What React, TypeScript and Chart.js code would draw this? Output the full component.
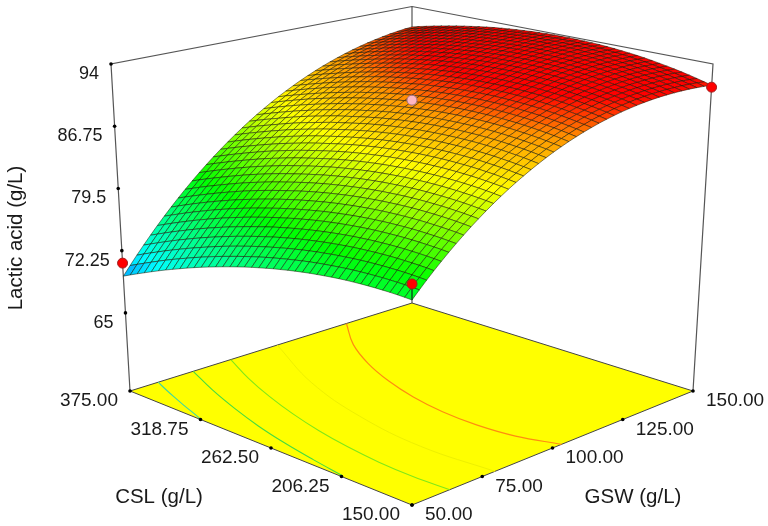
import React, { useEffect, useRef } from "react";
import { Chart, registerables } from "chart.js";

Chart.register(...registerables);

// CSL axis: 375 down to 150 in 40 cells, GSW axis: 50 up to 150 in 40 cells
const cslGrid = [375, 369.375, 363.75, 358.125, 352.5, 346.875, 341.25, 335.625, 330, 324.375, 318.75, 313.125, 307.5, 301.875, 296.25, 290.625, 285, 279.375, 273.75, 268.125, 262.5, 256.875, 251.25, 245.625, 240, 234.375, 228.75, 223.125, 217.5, 211.875, 206.25, 200.625, 195, 189.375, 183.75, 178.125, 172.5, 166.875, 161.25, 155.625, 150];
const gswGrid = [50, 52.5, 55, 57.5, 60, 62.5, 65, 67.5, 70, 72.5, 75, 77.5, 80, 82.5, 85, 87.5, 90, 92.5, 95, 97.5, 100, 102.5, 105, 107.5, 110, 112.5, 115, 117.5, 120, 122.5, 125, 127.5, 130, 132.5, 135, 137.5, 140, 142.5, 145, 147.5, 150];
// lactic acid (g/L), one row per CSL value, one column per GSW value
const lactic = [
  [69.28,70.29,71.28,72.24,73.18,74.10,74.99,75.86,76.71,77.53,78.33,79.11,79.86,80.59,81.29,81.97,82.63,83.27,83.88,84.47,85.03,85.57,86.09,86.58,87.05,87.50,87.92,88.32,88.70,89.05,89.38,89.69,89.97,90.23,90.46,90.67,90.86,91.03,91.17,91.29,91.38],
  [69.72,70.72,71.71,72.66,73.60,74.51,75.40,76.26,77.11,77.92,78.72,79.49,80.24,80.96,81.66,82.33,82.99,83.62,84.23,84.81,85.37,85.90,86.42,86.90,87.37,87.81,88.23,88.62,89.00,89.34,89.67,89.97,90.25,90.50,90.73,90.93,91.12,91.28,91.42,91.53,91.62],
  [70.14,71.14,72.12,73.07,74.00,74.91,75.79,76.65,77.49,78.30,79.09,79.86,80.60,81.32,82.01,82.68,83.33,83.96,84.56,85.14,85.69,86.22,86.73,87.21,87.67,88.11,88.52,88.91,89.28,89.62,89.94,90.24,90.51,90.76,90.98,91.18,91.36,91.52,91.65,91.76,91.84],
  [70.55,71.55,72.52,73.47,74.40,75.30,76.18,77.03,77.86,78.67,79.45,80.22,80.95,81.67,82.35,83.02,83.66,84.28,84.88,85.46,86.01,86.53,87.03,87.51,87.96,88.40,88.80,89.19,89.55,89.89,90.20,90.50,90.76,91.01,91.22,91.42,91.59,91.75,91.87,91.98,92.06],
  [70.96,71.95,72.92,73.86,74.78,75.68,76.55,77.40,78.22,79.02,79.80,80.56,81.29,82.00,82.68,83.34,83.98,84.59,85.18,85.76,86.31,86.83,87.32,87.79,88.24,88.67,89.07,89.45,89.81,90.14,90.45,90.74,91.00,91.24,91.45,91.64,91.81,91.96,92.08,92.18,92.26],
  [71.35,72.34,73.30,74.24,75.15,76.05,76.91,77.76,78.57,79.37,80.14,80.90,81.62,82.33,83.00,83.66,84.29,84.90,85.49,86.06,86.60,87.12,87.60,88.07,88.52,88.94,89.34,89.71,90.06,90.39,90.69,90.98,91.23,91.47,91.67,91.86,92.02,92.17,92.28,92.38,92.45],
  [71.73,72.71,73.66,74.60,75.51,76.40,77.26,78.10,78.91,79.70,80.47,81.22,81.94,82.64,83.31,83.96,84.59,85.20,85.78,86.34,86.88,87.39,87.87,88.34,88.78,89.20,89.59,89.96,90.30,90.62,90.92,91.20,91.45,91.68,91.88,92.06,92.22,92.36,92.47,92.56,92.63],
  [72.09,73.07,74.02,74.95,75.86,76.74,77.60,78.43,79.24,80.03,80.79,81.54,82.25,82.95,83.61,84.26,84.88,85.49,86.06,86.61,87.14,87.65,88.13,88.59,89.02,89.44,89.82,90.19,90.52,90.84,91.13,91.41,91.65,91.88,92.07,92.25,92.40,92.53,92.64,92.73,92.79],
  [72.44,73.41,74.36,75.29,76.19,77.07,77.92,78.75,79.56,80.34,81.10,81.84,82.55,83.24,83.90,84.54,85.16,85.76,86.33,86.87,87.39,87.89,88.37,88.82,89.25,89.66,90.04,90.40,90.73,91.04,91.33,91.60,91.84,92.06,92.25,92.42,92.57,92.69,92.79,92.88,92.94],
  [72.79,73.75,74.69,75.62,76.51,77.39,78.23,79.06,79.86,80.64,81.39,82.12,82.83,83.51,84.17,84.80,85.42,86.01,86.57,87.12,87.64,88.13,88.60,89.05,89.48,89.88,90.26,90.61,90.94,91.25,91.53,91.80,92.03,92.25,92.43,92.60,92.74,92.86,92.96,93.04,93.09],
  [73.12,74.08,75.01,75.93,76.82,77.69,78.53,79.35,80.15,80.92,81.67,82.39,83.09,83.77,84.42,85.05,85.66,86.24,86.80,87.35,87.87,88.36,88.82,89.27,89.69,90.09,90.46,90.81,91.14,91.44,91.72,91.98,92.21,92.42,92.60,92.76,92.90,93.02,93.11,93.18,93.22],
  [73.44,74.39,75.32,76.23,77.12,77.98,78.82,79.63,80.43,81.19,81.94,82.66,83.35,84.03,84.67,85.30,85.90,86.48,87.04,87.58,88.09,88.57,89.03,89.47,89.89,90.28,90.65,90.99,91.31,91.60,91.88,92.13,92.36,92.57,92.75,92.90,93.04,93.15,93.24,93.30,93.34],
  [73.74,74.69,75.62,76.52,77.40,78.26,79.09,79.90,80.69,81.45,82.19,82.91,83.60,84.27,84.91,85.53,86.13,86.71,87.26,87.79,88.29,88.77,89.22,89.66,90.07,90.46,90.82,91.16,91.47,91.76,92.03,92.28,92.50,92.70,92.88,93.03,93.16,93.27,93.35,93.41,93.44],
  [74.03,74.98,75.90,76.80,77.67,78.53,79.35,80.16,80.94,81.69,82.43,83.14,83.83,84.49,85.13,85.74,86.34,86.91,87.45,87.98,88.48,88.96,89.41,89.84,90.24,90.63,90.98,91.32,91.63,91.91,92.18,92.42,92.64,92.83,93.00,93.15,93.27,93.38,93.45,93.51,93.53],
  [74.31,75.25,76.17,77.06,77.93,78.78,79.60,80.40,81.17,81.92,82.65,83.36,84.04,84.70,85.33,85.94,86.53,87.09,87.63,88.16,88.66,89.13,89.58,90.00,90.40,90.78,91.13,91.46,91.77,92.05,92.31,92.55,92.76,92.95,93.11,93.25,93.37,93.47,93.54,93.59,93.61],
  [74.58,75.52,76.43,77.32,78.18,79.03,79.84,80.64,81.40,82.15,82.87,83.58,84.25,84.91,85.53,86.14,86.72,87.28,87.82,88.34,88.83,89.30,89.74,90.16,90.55,90.93,91.27,91.60,91.90,92.18,92.43,92.67,92.87,93.06,93.21,93.35,93.46,93.56,93.62,93.67,93.68],
  [74.84,75.77,76.68,77.56,78.42,79.26,80.07,80.86,81.62,82.36,83.08,83.78,84.45,85.10,85.72,86.32,86.90,87.46,87.99,88.50,88.99,89.45,89.89,90.30,90.69,91.06,91.40,91.72,92.02,92.29,92.54,92.77,92.97,93.15,93.30,93.43,93.54,93.63,93.69,93.73,93.74],
  [75.09,76.01,76.92,77.79,78.65,79.48,80.29,81.07,81.83,82.57,83.28,83.98,84.64,85.29,85.90,86.50,87.07,87.63,88.15,88.66,89.14,89.59,90.03,90.43,90.82,91.18,91.52,91.83,92.13,92.39,92.64,92.86,93.06,93.23,93.38,93.50,93.61,93.69,93.75,93.78,93.79],
  [75.32,76.24,77.14,78.01,78.86,79.69,80.49,81.27,82.03,82.76,83.47,84.16,84.82,85.46,86.07,86.66,87.23,87.78,88.30,88.80,89.27,89.72,90.15,90.55,90.93,91.29,91.62,91.93,92.22,92.48,92.72,92.94,93.13,93.30,93.44,93.56,93.66,93.74,93.79,93.82,93.82],
  [75.54,76.46,77.35,78.22,79.06,79.89,80.68,81.46,82.21,82.94,83.64,84.33,84.98,85.62,86.22,86.81,87.37,87.92,88.43,88.93,89.39,89.84,90.26,90.66,91.03,91.39,91.71,92.02,92.30,92.56,92.79,93.01,93.19,93.36,93.49,93.61,93.70,93.78,93.82,93.85,93.84],
  [75.75,76.66,77.55,78.41,79.25,80.07,80.86,81.63,82.38,83.10,83.80,84.48,85.13,85.76,86.36,86.94,87.50,88.04,88.55,89.04,89.50,89.94,90.36,90.75,91.12,91.47,91.79,92.09,92.37,92.62,92.85,93.06,93.24,93.40,93.53,93.64,93.73,93.80,93.84,93.86,93.85],
  [75.95,76.85,77.74,78.60,79.43,80.25,81.03,81.80,82.54,83.25,83.95,84.62,85.27,85.89,86.49,87.07,87.62,88.15,88.66,89.14,89.60,90.03,90.45,90.84,91.20,91.55,91.86,92.16,92.42,92.67,92.90,93.10,93.28,93.43,93.56,93.67,93.75,93.81,93.85,93.86,93.85],
  [76.13,77.03,77.91,78.77,79.60,80.41,81.19,81.95,82.68,83.39,84.08,84.75,85.39,86.01,86.61,87.18,87.73,88.25,88.75,89.23,89.68,90.11,90.52,90.91,91.27,91.61,91.92,92.21,92.47,92.71,92.93,93.13,93.30,93.45,93.58,93.68,93.76,93.81,93.84,93.85,93.83],
  [76.31,77.20,78.08,78.93,79.75,80.56,81.33,82.09,82.82,83.52,84.21,84.87,85.51,86.12,86.71,87.28,87.82,88.34,88.84,89.31,89.76,90.18,90.59,90.97,91.32,91.66,91.96,92.25,92.51,92.74,92.96,93.15,93.32,93.46,93.58,93.68,93.75,93.80,93.83,93.83,93.81],
  [76.47,77.36,78.23,79.07,79.89,80.69,81.46,82.21,82.94,83.64,84.32,84.98,85.61,86.22,86.80,87.36,87.90,88.42,88.91,89.38,89.82,90.24,90.64,91.01,91.36,91.69,91.99,92.27,92.53,92.76,92.97,93.16,93.32,93.46,93.57,93.66,93.73,93.78,93.80,93.80,93.77],
  [76.62,77.51,78.37,79.21,80.02,80.82,81.58,82.33,83.05,83.75,84.42,85.07,85.70,86.30,86.88,87.44,87.97,88.48,88.97,89.43,89.87,90.29,90.68,91.05,91.39,91.72,92.01,92.29,92.54,92.77,92.97,93.15,93.31,93.44,93.55,93.64,93.70,93.74,93.76,93.75,93.72],
  [76.76,77.64,78.49,79.33,80.14,80.93,81.69,82.43,83.14,83.84,84.51,85.15,85.77,86.37,86.95,87.50,88.03,88.53,89.01,89.47,89.91,90.32,90.70,91.07,91.41,91.73,92.02,92.29,92.53,92.76,92.96,93.13,93.28,93.41,93.52,93.60,93.66,93.69,93.70,93.69,93.66],
  [76.88,77.76,78.61,79.44,80.25,81.03,81.79,82.52,83.23,83.92,84.58,85.22,85.84,86.43,87.01,87.55,88.08,88.57,89.05,89.50,89.93,90.34,90.72,91.08,91.42,91.73,92.02,92.28,92.52,92.74,92.93,93.10,93.25,93.37,93.48,93.55,93.61,93.63,93.64,93.62,93.58],
  [76.99,77.86,78.71,79.54,80.34,81.12,81.87,82.60,83.30,83.98,84.64,85.28,85.89,86.48,87.05,87.59,88.11,88.60,89.07,89.52,89.94,90.34,90.72,91.08,91.41,91.72,92.00,92.26,92.49,92.70,92.89,93.06,93.20,93.32,93.42,93.49,93.54,93.56,93.56,93.54,93.49],
  [77.10,77.96,78.80,79.63,80.42,81.20,81.94,82.67,83.36,84.04,84.70,85.33,85.93,86.52,87.08,87.62,88.13,88.62,89.08,89.53,89.95,90.34,90.71,91.07,91.39,91.70,91.97,92.23,92.45,92.66,92.85,93.01,93.14,93.26,93.35,93.42,93.46,93.48,93.47,93.45,93.40],
  [77.19,78.05,78.88,79.70,80.49,81.26,82.00,82.72,83.41,84.09,84.74,85.36,85.96,86.54,87.10,87.63,88.14,88.62,89.08,89.52,89.94,90.33,90.69,91.04,91.36,91.66,91.93,92.18,92.40,92.61,92.79,92.94,93.07,93.18,93.27,93.33,93.37,93.38,93.37,93.34,93.29],
  [77.27,78.12,78.95,79.76,80.55,81.31,82.05,82.76,83.45,84.12,84.77,85.39,85.98,86.56,87.11,87.63,88.14,88.62,89.07,89.51,89.92,90.30,90.66,91.00,91.32,91.61,91.88,92.12,92.34,92.54,92.72,92.87,92.99,93.09,93.18,93.23,93.27,93.28,93.26,93.23,93.17],
  [77.33,78.18,79.01,79.81,80.59,81.35,82.08,82.79,83.48,84.14,84.78,85.40,85.99,86.56,87.10,87.62,88.12,88.60,89.05,89.48,89.88,90.26,90.62,90.95,91.26,91.55,91.81,92.05,92.27,92.46,92.63,92.78,92.90,92.99,93.07,93.12,93.15,93.16,93.14,93.10,93.03],
  [77.38,78.23,79.05,79.85,80.63,81.38,82.11,82.81,83.49,84.15,84.78,85.40,85.98,86.55,87.09,87.60,88.10,88.57,89.01,89.44,89.83,90.21,90.56,90.89,91.20,91.48,91.74,91.97,92.18,92.37,92.53,92.68,92.79,92.88,92.96,93.00,93.03,93.03,93.00,92.96,92.88],
  [77.42,78.26,79.08,79.88,80.65,81.40,82.12,82.82,83.49,84.14,84.77,85.38,85.96,86.52,87.06,87.57,88.06,88.52,88.96,89.38,89.77,90.14,90.49,90.82,91.12,91.40,91.65,91.88,92.08,92.26,92.42,92.56,92.67,92.76,92.83,92.87,92.89,92.88,92.85,92.80,92.72],
  [77.45,78.29,79.10,79.89,80.66,81.40,82.12,82.81,83.48,84.13,84.75,85.36,85.93,86.49,87.02,87.52,88.01,88.47,88.90,89.32,89.70,90.07,90.41,90.73,91.03,91.30,91.55,91.77,91.97,92.15,92.30,92.44,92.54,92.63,92.69,92.72,92.74,92.73,92.69,92.64,92.55],
  [77.47,78.30,79.11,79.89,80.65,81.39,82.10,82.79,83.46,84.10,84.72,85.32,85.89,86.44,86.96,87.46,87.94,88.40,88.83,89.24,89.62,89.98,90.32,90.63,90.92,91.19,91.43,91.65,91.85,92.02,92.17,92.30,92.40,92.48,92.53,92.56,92.57,92.56,92.52,92.46,92.37],
  [77.48,78.30,79.11,79.88,80.64,81.37,82.08,82.76,83.43,84.06,84.68,85.27,85.84,86.38,86.90,87.39,87.87,88.32,88.75,89.15,89.53,89.88,90.22,90.52,90.81,91.07,91.31,91.52,91.72,91.88,92.03,92.15,92.25,92.32,92.37,92.39,92.40,92.38,92.34,92.27,92.18],
  [77.47,78.29,79.09,79.86,80.61,81.34,82.04,82.72,83.38,84.01,84.62,85.21,85.77,86.31,86.82,87.31,87.78,88.23,88.65,89.05,89.42,89.77,90.10,90.40,90.68,90.94,91.17,91.38,91.57,91.73,91.87,91.99,92.08,92.15,92.19,92.21,92.21,92.19,92.14,92.07,91.97],
  [77.45,78.27,79.06,79.83,80.57,81.30,81.99,82.67,83.32,83.95,84.55,85.14,85.69,86.23,86.73,87.21,87.68,88.12,88.54,88.94,89.30,89.65,89.97,90.27,90.54,90.80,91.02,91.23,91.41,91.57,91.70,91.82,91.90,91.97,92.00,92.02,92.01,91.99,91.93,91.86,91.75],
  [77.42,78.23,79.02,79.78,80.52,81.24,81.93,82.60,83.25,83.87,84.47,85.05,85.60,86.13,86.63,87.11,87.57,88.00,88.42,88.81,89.17,89.51,89.83,90.12,90.39,90.64,90.86,91.06,91.24,91.39,91.52,91.63,91.71,91.77,91.80,91.81,91.80,91.77,91.71,91.63,91.52],
];

const zTicks = [65, 72.25, 79.5, 86.75, 94];
const zTickLabels = ["65", "72.25", "79.5", "86.75", "94"];
const cslTicks = [375, 318.75, 262.5, 206.25, 150];
const cslTickLabels = ["375.00", "318.75", "262.50", "206.25", "150.00"];
const gswTicks = [50, 75, 100, 125, 150];
const gswTickLabels = ["50.00", "75.00", "100.00", "125.00", "150.00"];

// design points: [CSL, GSW, lactic acid]
const redPoints = [[375, 50, 70.8], [150, 50, 79.1], [150, 150, 91.3]];
const pinkPoints = [[262.5, 100, 90.4]];

// floor contours as [CSL, GSW] pairs
const contourA = [[375, 60], [363.75, 57.8], [352.5, 55.75], [341.25, 53.8], [330, 52], [318.75, 50.2]];
const contourB = [[375, 72.4], [346.9, 66.75], [318.75, 62], [290.6, 58], [262.5, 54.9], [234.4, 52.5], [206.25, 50.5]];
const contourC = [[375, 85.75], [346.9, 79.55], [318.75, 74.45], [290.6, 70.3], [262.5, 67.05], [234.4, 64.75], [206.25, 63.3], [178.1, 62.85], [150, 63.45]];
const contourD = [[375, 102.2], [318.75, 89.3], [262.5, 81.5], [206.25, 78.1], [150, 79.5]];
const contourE = [[375, 126.75], [346.9, 116.7], [318.75, 109.45], [290.6, 104.2], [262.5, 100.55], [234.4, 98.45], [206.25, 98], [178.1, 99.35], [150, 103.2]];

// colour ramp stops: level, r, g, b
const rampStops = [[68.5, 0, 120, 255], [71.5, 0, 255, 255], [79, 0, 255, 0], [86, 255, 255, 0], [89.7, 255, 150, 0], [92, 255, 0, 0]];

const FLOOR_Z = 55.9;
const TOP_Z = 94;

type P = { x: number; y: number };
const bottomQuad = { l: [130, 391], f: [412, 505], r: [693, 391], b: [412, 303] };
const topQuad = { l: [111, 64], f: [412, 142], r: [713, 64], b: [412, 6.5] };

function bilinear(q: typeof bottomQuad, s: number, t: number) {
  return [0, 1].map(
    (i) => (1 - s) * (1 - t) * q.l[i] + s * (1 - t) * q.f[i] + s * t * q.r[i] + (1 - s) * t * q.b[i],
  );
}

function project(csl: number, gsw: number, z: number): P {
  const s = (375 - csl) / 225;
  const t = (gsw - 50) / 100;
  const a = bilinear(bottomQuad, s, t);
  const b = bilinear(topQuad, s, t);
  const w = (z - FLOOR_Z) / (TOP_Z - FLOOR_Z);
  return { x: a[0] + (b[0] - a[0]) * w, y: a[1] + (b[1] - a[1]) * w };
}

function ramp(z: number) {
  const st = rampStops;
  if (z <= st[0][0]) return `rgb(${st[0][1]},${st[0][2]},${st[0][3]})`;
  for (let i = 1; i < st.length; i++) {
    if (z <= st[i][0]) {
      const f = (z - st[i - 1][0]) / (st[i][0] - st[i - 1][0]);
      const c = [1, 2, 3].map((k) => Math.round(st[i - 1][k] + (st[i][k] - st[i - 1][k]) * f));
      return `rgb(${c[0]},${c[1]},${c[2]})`;
    }
  }
  const e = st[st.length - 1];
  return `rgb(${e[1]},${e[2]},${e[3]})`;
}

function buildDatasets() {
  const sets: any[] = [];
  const line = (data: P[], color: string, width: number, extra: any = {}) =>
    sets.push({ data, borderColor: color, borderWidth: width, pointRadius: 0, fill: false, tension: 0, clip: false, ...extra });
  const onFloor = (pairs: number[][]) => pairs.map((p) => project(p[0], p[1], FLOOR_Z));

  // box behind the surface
  line([project(375, 50, FLOOR_Z), project(375, 50, TOP_Z), project(375, 150, TOP_Z), project(150, 150, TOP_Z), project(150, 150, FLOOR_Z)], "#555", 1.2);
  line([project(375, 150, TOP_Z), project(375, 150, FLOOR_Z)], "#555", 1.2);

  // floor
  line(onFloor([[375, 50], [150, 50], [150, 150], [375, 150], [375, 50]]), "#444", 1, { fill: "shape", backgroundColor: "#ffff00" });
  line(onFloor(contourA), "#3fd8a0", 1.1, { tension: 0.4 });
  line(onFloor(contourB), "#45dc40", 1.1, { tension: 0.4 });
  line(onFloor(contourC), "#80e818", 1.1, { tension: 0.4 });
  line(onFloor(contourD), "#eef000", 1, { tension: 0.4 });
  line(onFloor(contourE), "#ff8c10", 1.2, { tension: 0.4 });

  // surface cells, back corner first
  for (let i = 0; i < cslGrid.length - 1; i++) {
    for (let j = gswGrid.length - 2; j >= 0; j--) {
      const corners = [[i, j], [i + 1, j], [i + 1, j + 1], [i, j + 1], [i, j]];
      const pts = corners.map(([a, b]) => project(cslGrid[a], gswGrid[b], lactic[a][b]));
      const mean = (lactic[i][j] + lactic[i + 1][j] + lactic[i + 1][j + 1] + lactic[i][j + 1]) / 4;
      line(pts, "rgba(20,20,0,0.72)", 0.7, { fill: "shape", backgroundColor: ramp(mean) });
    }
  }

  // stem of the front design point
  line([project(150, 50, 79.1), project(150, 50, lactic[40][0])], "#0a6a20", 1);

  // tick dots
  const dots = [
    ...zTicks.map((z) => project(375, 50, z)),
    ...cslTicks.map((c) => project(c, 50, FLOOR_Z)),
    ...gswTicks.map((g) => project(150, g, FLOOR_Z)),
  ];
  sets.push({ data: dots, showLine: false, pointRadius: 1.8, pointBackgroundColor: "#000", pointBorderWidth: 0, clip: false });

  // design points
  sets.push({
    data: redPoints.map((p) => project(p[0], p[1], p[2])),
    showLine: false, pointRadius: 5, pointBackgroundColor: "#ff0000", pointBorderColor: "#a02020", pointBorderWidth: 1, clip: false,
  });
  sets.push({
    data: pinkPoints.map((p) => project(p[0], p[1], p[2])),
    showLine: false, pointRadius: 5, pointBackgroundColor: "#ffb6c1", pointBorderColor: "#a07080", pointBorderWidth: 1, clip: false,
  });

  const n = sets.length;
  sets.forEach((d, k) => (d.order = n - k));
  return sets;
}

const textPlugin = {
  id: "axisText",
  afterDraw(chart: any) {
    const { ctx, scales } = chart;
    const px = (p: P) => ({ x: scales.x.getPixelForValue(p.x), y: scales.y.getPixelForValue(p.y) });
    ctx.save();
    ctx.fillStyle = "#1a1a1a";
    ctx.textBaseline = "middle";
    ctx.font = "18px 'Liberation Sans', Arial, sans-serif";
    ctx.textAlign = "right";
    zTicks.forEach((z, i) => {
      const p = px(project(375, 50, z));
      ctx.fillText(zTickLabels[i], p.x - 12, p.y + 10);
    });
    ctx.font = "19px 'Liberation Sans', Arial, sans-serif";
    cslTicks.forEach((c, i) => {
      const p = px(project(c, 50, FLOOR_Z));
      ctx.fillText(cslTickLabels[i], p.x - 12, p.y + 10);
    });
    ctx.textAlign = "left";
    gswTicks.forEach((g, i) => {
      const p = px(project(150, g, FLOOR_Z));
      ctx.fillText(gswTickLabels[i], p.x + 13, p.y + 10);
    });
    ctx.font = "20.5px 'Liberation Sans', Arial, sans-serif";
    ctx.textAlign = "center";
    ctx.fillText("CSL (g/L)", 159, 497);
    ctx.fillText("GSW (g/L)", 633, 497);
    ctx.translate(16, 238);
    ctx.rotate(-Math.PI / 2);
    ctx.fillText("Lactic acid (g/L)", 0, 0);
    ctx.restore();
  },
};

export default function App() {
  const ref = useRef<HTMLCanvasElement>(null);
  useEffect(() => {
    const chart = new Chart(ref.current as HTMLCanvasElement, {
      type: "line",
      data: { datasets: buildDatasets() },
      options: {
        animation: false,
        responsive: false,
        events: [],
        layout: { padding: 0, autoPadding: false },
        plugins: { legend: { display: false }, tooltip: { enabled: false } },
        scales: {
          x: { type: "linear", min: 0, max: 768, display: false },
          y: { type: "linear", min: 0, max: 526, reverse: true, display: false },
        },
      },
      plugins: [textPlugin],
    } as any);
    return () => chart.destroy();
  }, []);
  return <canvas ref={ref} width={768} height={526} style={{ position: "absolute", left: 0, top: 0, display: "block" }} />;
}
